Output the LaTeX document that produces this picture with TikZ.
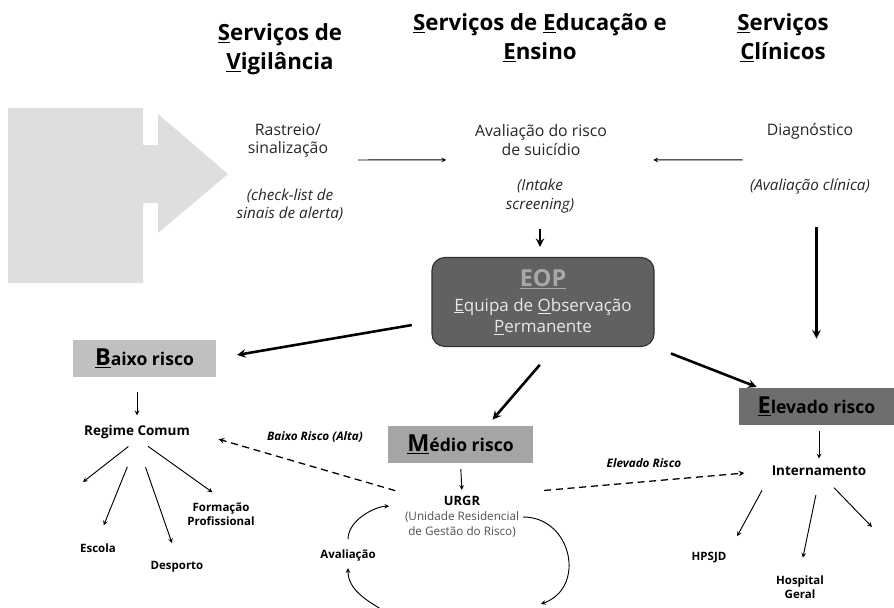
\documentclass[tikz,border=0pt]{standalone}
\usepackage{fontspec}
\setmainfont{Open Sans}
\usetikzlibrary{arrows, positioning, calc}
\definecolor{cinzaseta}{RGB}{222,222,222}
\definecolor{cinzaclaro}{RGB}{192,192,192}
\definecolor{cinzamedio}{RGB}{165,165,165}
\definecolor{cinzaescuro}{RGB}{110,110,110}
\definecolor{cinzaeop}{RGB}{97,97,97}
\definecolor{bordaeop}{RGB}{50,50,50}
\definecolor{letraeop}{RGB}{232,232,232}
\definecolor{siglaeop}{RGB}{168,168,168}
\definecolor{cinzatexto}{RGB}{80,80,80}
\newcommand{\inicial}[1]{{\fontsize{20}{20}\selectfont\underline{#1}}}
\tikzset{>=stealth,
  titulo/.style={align=center, font=\fontsize{19}{25}\selectfont\bfseries},
  texto/.style={align=center, text=black!85, font=\fontsize{13.5}{15.5}\selectfont},
  italico/.style={align=center, text=black!85, font=\fontsize{13}{15.5}\selectfont\itshape},
  caixa/.style={minimum height=1.11cm, inner sep=0pt, font=\fontsize{15}{17}\selectfont\bfseries},
  rotulo/.style={align=center, font=\fontsize{11.5}{14}\selectfont\bfseries},
  pequeno/.style={align=center, font=\fontsize{9.8}{12}\selectfont\bfseries},
  etiqueta/.style={font=\fontsize{10}{11}\selectfont\bfseries\itshape},
  fina/.style={->, line width=0.8pt},
  grossa/.style={->, line width=2.2pt},
  tracejada/.style={->, line width=1.1pt, dash pattern=on 6pt off 4pt}}

\begin{document}
\begin{tikzpicture}[x=0.03cm, y=-0.03cm]
  \useasboundingbox (0,0) rectangle (894,607);

  \fill[cinzaseta] (8,108) -- (143,108) -- (143,145) -- (158,145) -- (158,114) -- (228,174)
    -- (158,233) -- (158,203) -- (143,203) -- (143,283) -- (8,283) -- cycle;

  \node[titulo] (vigilancia) at (280,49) {\underline{S}erviços de\\\underline{V}igilância};
  \node[titulo] (educacao) at (540,38) {\underline{S}erviços de \underline{E}ducação e\\\underline{E}nsino};
  \node[titulo] (clinicos) at (783,38) {\underline{S}erviços\\\underline{C}línicos};

  \node[texto] (rastreio) at (288,141) {Rastreio/\\sinalização};
  \node[italico] (checklist) at (290,205) {(check-list de\\sinais de alerta)};
  \node[texto] (avalrisco) at (541,140) {Avaliação do risco\\de suicídio};
  \node[italico] (intake) at (540,196) {(Intake\\screening)};
  \node[texto] (diag) at (810,131) {Diagnóstico};
  \node[italico] (avalclin) at (810,186) {(Avaliação clínica)};

  \node[draw=bordaeop, line width=1pt, fill=cinzaeop, rounded corners=11pt, minimum width=6.66cm,
    minimum height=2.67cm, align=center, text=letraeop, font=\fontsize{14.5}{18}\selectfont] (eop) at (543,302)
    {{\fontsize{20}{24}\selectfont\bfseries\textcolor{siglaeop}{\underline{EOP}}}\\[3pt]
     \underline{E}quipa de \underline{O}bservação\\\underline{P}ermanente};

  \node[caixa, fill=cinzaclaro, minimum width=4.29cm] (baixo) at (144.5,358.5) {\inicial{B}aixo risco};
  \node[caixa, fill=cinzamedio, minimum width=4.35cm] (medio) at (460.5,444.5) {\inicial{M}édio risco};
  \node[caixa, fill=cinzaescuro, minimum width=4.65cm] (elevado) at (816.5,406.5) {\inicial{E}levado risco};

  \node[rotulo] (regime) at (137,432) {Regime Comum};
  \node[pequeno] (escola) at (98,548) {Escola};
  \node[pequeno] (desporto) at (177,567) {Desporto};
  \node[pequeno] (formacao) at (221,514) {Formação\\Profissional};

  \node[align=center, text=cinzatexto, font=\fontsize{10}{12.8}\selectfont] (urgr) at (462,517)
    {\textcolor{black}{\fontsize{11}{12.8}\selectfont\bfseries URGR}\\(Unidade Residencial\\de Gestão do Risco)};
  \node[pequeno] (aval) at (348,556) {Avaliação};

  \node[rotulo] (intern) at (819,471) {Internamento};
  \node[pequeno] (hpsjd) at (709,558) {HPSJD};
  \node[pequeno] (hospital) at (800,587) {Hospital\\Geral};

  \node[etiqueta] (rotbaixa) at (315,437) {Baixo Risco (Alta)};
  \node[etiqueta] (rotelevado) at (644,463) {Elevado Risco};

  \coordinate (livreA) at (83,482);
  \coordinate (livreB) at (872,527);
  \coordinate (lacoA) at (541,604);
  \coordinate (lacoB) at (386,612);

  % fluxo de entrada
  \draw[fina, shorten <=22pt, shorten >=21pt] ([yshift=-16.2pt]rastreio.east) -- ([yshift=-17pt]avalrisco.west);
  \draw[fina, shorten <=17pt, shorten >=36pt] ([yshift=-24.7pt]diag.west) -- ([yshift=-17pt]avalrisco.east);
  \draw[grossa, shorten <=10pt, shorten >=8.5pt] (intake.south) -- (intake.south |- eop.north);
  \draw[grossa, shorten <=25pt, shorten >=42pt] (avalclin.south -| elevado.north) -- (elevado.north);

  % niveis de risco
  \draw[grossa, shorten <=17pt, shorten >=18pt] (eop.190) -- (baixo.east);
  \draw[grossa, shorten <=20pt, shorten >=7pt] (eop.285) -- (medio.35);
  \draw[grossa, shorten <=15pt, shorten >=2pt] (eop.south east) -- (elevado.162);

  % baixo risco
  \draw[fina, shorten <=13pt, shorten >=5pt] (baixo.south -| regime.north) -- (regime.north);
  \draw[fina, shorten <=5pt] (regime.250) -- (livreA);
  \draw[fina, shorten <=22pt, shorten >=13pt] (regime.south) -- (escola.north);
  \draw[fina, shorten <=22pt, shorten >=13pt] (regime.south) -- (desporto.north);
  \draw[fina, shorten <=5pt, shorten >=9pt] (regime.-60) -- (formacao.north);

  % medio risco
  \draw[fina, shorten <=5pt, shorten >=2pt] (medio.south) -- (urgr.north);
  \draw[tracejada, shorten <=5pt, shorten >=22pt] (urgr.north west) -- (regime.east);
  \draw[tracejada, shorten <=18pt, shorten >=20pt] (urgr.north east) -- (intern.west);
  \draw[fina, shorten <=6pt, shorten >=10pt] (aval.north) to[out=90, in=180] (urgr.170);
  \draw[fina] (urgr.east) to[out=0, in=20, looseness=1.4] (lacoA);
  \draw[fina, shorten >=2pt] (lacoB) to[out=150, in=-90] (aval.south);

  % elevado risco
  \draw[fina, shorten <=5pt, shorten >=3pt] (elevado.south -| intern.north) -- (intern.north);
  \draw[fina, shorten <=10pt, shorten >=12pt] (intern.south west) -- (hpsjd.north east);
  \draw[fina, shorten <=13pt, shorten >=12pt] (intern.south) -- (hospital.north);
  \draw[fina, shorten <=9pt] (intern.-50) -- (livreB);

\end{tikzpicture}
\end{document}
